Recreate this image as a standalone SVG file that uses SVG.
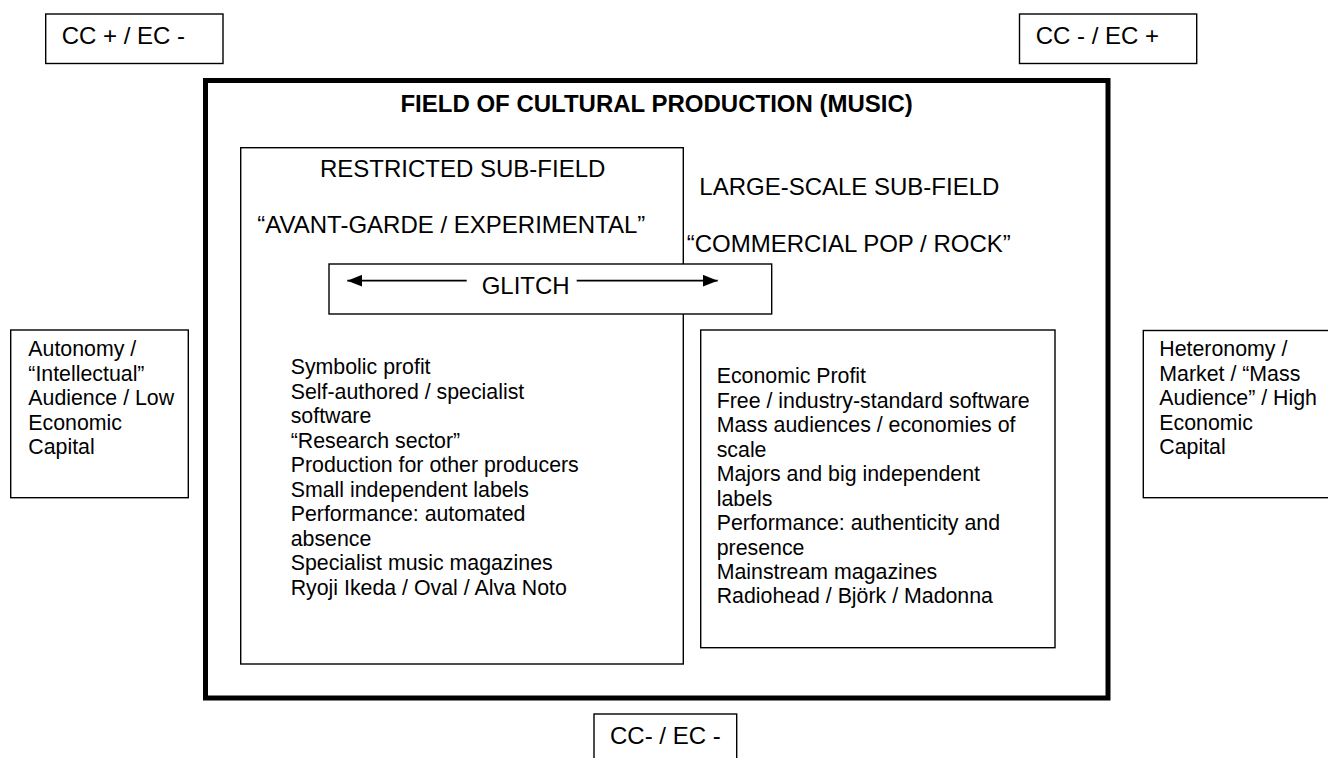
<svg xmlns="http://www.w3.org/2000/svg" width="1328" height="758" viewBox="0 0 1328 758">
  <style>
    .box { fill: #ffffff; stroke: #000000; stroke-width: 1.4; }
    .thick { fill: none; stroke: #000000; stroke-width: 5; }
    .h { font-family: "Liberation Sans", Arial, sans-serif; font-size: 24px; fill: #000000; }
    .b { font-family: "Liberation Sans", Arial, sans-serif; font-size: 21.33px; fill: #000000; }
    .title { font-weight: bold; }
    .arrow { stroke: #000000; stroke-width: 1.8; fill: none; }
  </style>
  <defs>
    <marker id="head" markerUnits="userSpaceOnUse" markerWidth="16" markerHeight="12" refX="15" refY="6" orient="auto">
      <path d="M0,0 L15,6 L0,12 Z" fill="#000000"/>
    </marker>
  </defs>
  <rect x="0" y="0" width="1328" height="758" fill="#ffffff"/>

  <g id="cc-plus-ec-minus">
    <rect class="box" x="45.7" y="14" width="177.3" height="49.5"/>
    <text class="h" x="61.7" y="43.5">CC + / EC -</text>
  </g>

  <g id="cc-minus-ec-plus">
    <rect class="box" x="1019.5" y="14" width="177.2" height="49.5"/>
    <text class="h" x="1035.7" y="43.5">CC - / EC +</text>
  </g>

  <g id="field">
    <rect class="thick" x="205.5" y="80.5" width="902.5" height="617.5"/>
    <text class="h title" x="656.6" y="112.3" text-anchor="middle">FIELD OF CULTURAL PRODUCTION (MUSIC)</text>
  </g>

  <g id="restricted">
    <rect class="box" x="240.7" y="147.7" width="442.6" height="516.3"/>
    <text class="h" x="320" y="177.3">RESTRICTED SUB-FIELD</text>
    <text class="h" x="257.3" y="232.7">“AVANT-GARDE / EXPERIMENTAL”</text>
    <text class="b">
      <tspan x="290.7" y="374">Symbolic profit</tspan>
      <tspan x="290.7" y="398.5">Self-authored / specialist</tspan>
      <tspan x="290.7" y="423">software</tspan>
      <tspan x="290.7" y="447.5">“Research sector”</tspan>
      <tspan x="290.7" y="472">Production for other producers</tspan>
      <tspan x="290.7" y="496.5">Small independent labels</tspan>
      <tspan x="290.7" y="521">Performance: automated</tspan>
      <tspan x="290.7" y="545.5">absence</tspan>
      <tspan x="290.7" y="570">Specialist music magazines</tspan>
      <tspan x="290.7" y="594.5">Ryoji Ikeda / Oval / Alva Noto</tspan>
    </text>
  </g>

  <g id="large-scale">
    <text class="h" x="699.3" y="195">LARGE-SCALE SUB-FIELD</text>
    <text class="h" x="686.7" y="251.7">“COMMERCIAL POP / ROCK”</text>
  </g>

  <g id="glitch">
    <rect class="box" x="329" y="264" width="442.7" height="50"/>
    <text class="h" x="481.7" y="294.3">GLITCH</text>
  </g>

  <g id="large-scale-list">
    <rect class="box" x="700.7" y="330" width="354.3" height="317.7"/>
    <text class="b">
      <tspan x="716.7" y="383.3">Economic Profit</tspan>
      <tspan x="716.7" y="407.8">Free / industry-standard software</tspan>
      <tspan x="716.7" y="432.2">Mass audiences / economies of</tspan>
      <tspan x="716.7" y="456.7">scale</tspan>
      <tspan x="716.7" y="481.1">Majors and big independent</tspan>
      <tspan x="716.7" y="505.6">labels</tspan>
      <tspan x="716.7" y="530">Performance: authenticity and</tspan>
      <tspan x="716.7" y="554.5">presence</tspan>
      <tspan x="716.7" y="578.9">Mainstream magazines</tspan>
      <tspan x="716.7" y="603.4">Radiohead / Björk / Madonna</tspan>
    </text>
  </g>

  <g id="autonomy">
    <rect class="box" x="10.7" y="330" width="177.6" height="167.7"/>
    <text class="b">
      <tspan x="28.3" y="356">Autonomy /</tspan>
      <tspan x="28.3" y="380.5">“Intellectual”</tspan>
      <tspan x="28.3" y="405">Audience / Low</tspan>
      <tspan x="28.3" y="429.5">Economic</tspan>
      <tspan x="28.3" y="454">Capital</tspan>
    </text>
  </g>

  <g id="heteronomy">
    <rect class="box" x="1143.3" y="330.5" width="195" height="167.2"/>
    <text class="b">
      <tspan x="1159.3" y="356">Heteronomy /</tspan>
      <tspan x="1159.3" y="380.5">Market / “Mass</tspan>
      <tspan x="1159.3" y="405">Audience” / High</tspan>
      <tspan x="1159.3" y="429.5">Economic</tspan>
      <tspan x="1159.3" y="454">Capital</tspan>
    </text>
  </g>

  <g id="cc-minus-ec-minus">
    <rect class="box" x="594" y="714" width="142.7" height="60"/>
    <text class="h" x="610" y="744">CC- / EC -</text>
  </g>

  <g id="connectors">
    <line class="arrow" x1="466.7" y1="280.7" x2="347.3" y2="280.7" marker-end="url(#head)"/>
    <line class="arrow" x1="576.7" y1="280.7" x2="717.7" y2="280.7" marker-end="url(#head)"/>
  </g>
</svg>
